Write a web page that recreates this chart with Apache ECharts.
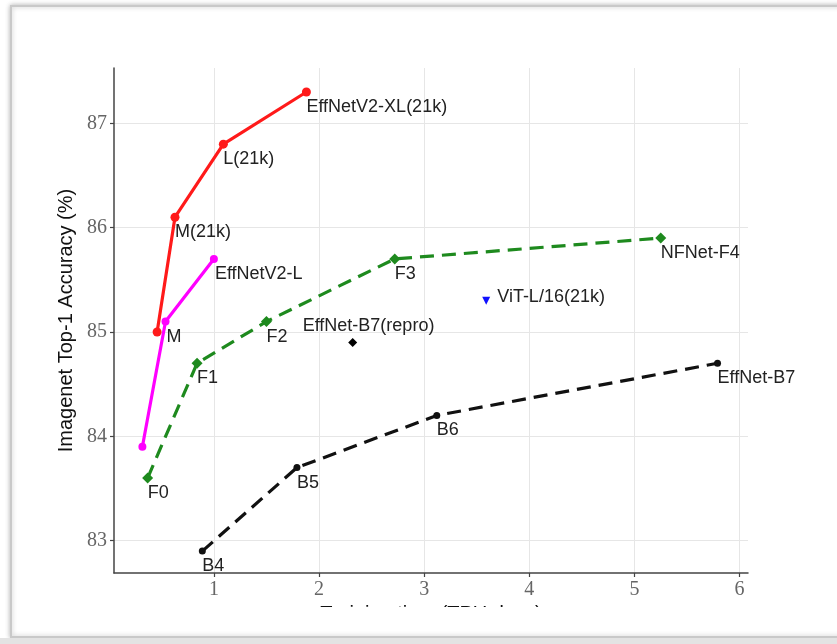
<!DOCTYPE html>
<html>
<head>
<meta charset="utf-8">
<script src="https://cdn.jsdelivr.net/npm/echarts@6/dist/echarts.min.js"></script>
<style>
html,body{margin:0;padding:0;background:#fff;}
#chart{width:837px;height:644px;}
</style>
</head>
<body>
<div id="chart"></div>
<script>
// ---- data ----
const xTicks = [1, 2, 3, 4, 5, 6];
const yTicks = [83, 84, 85, 86, 87];

const v2_21k_x = [0.46, 0.63, 1.09, 1.88];
const v2_21k_y = [85.0, 86.1, 86.8, 87.3];
const v2_21k_lbl = ['', 'M(21k)', 'L(21k)', 'EffNetV2-XL(21k)'];

const v2_x = [0.32, 0.54, 1.00];
const v2_y = [83.9, 85.1, 85.7];
const v2_lbl = ['', 'M', 'EffNetV2-L'];

const nf_x = [0.37, 0.84, 1.50, 2.72, 5.25];
const nf_y = [83.6, 84.7, 85.1, 85.7, 85.9];
const nf_lbl = ['F0', 'F1', 'F2', 'F3', 'NFNet-F4'];

const eff_x = [0.89, 1.79, 3.12, 5.79];
const eff_y = [82.9, 83.7, 84.2, 84.7];
const eff_lbl = ['B4', 'B5', 'B6', 'EffNet-B7'];

const repro_x = [2.32];
const repro_y = [84.9];
const repro_lbl = ['EffNet-B7(repro)'];

const vit_x = [3.59];
const vit_y = [85.3];
const vit_lbl = ['ViT-L/16(21k)'];

// ---- build ----
function pts(xs, ys, lbls) {
  return xs.map((x, i) => ({ value: [x, ys[i]], name: lbls[i] }));
}
const labelFont = {
  fontFamily: 'Liberation Sans, Arial, sans-serif',
  fontSize: 18,
  color: '#222'
};
function lbl(offset) {
  return Object.assign({
    show: true,
    position: 'inside',
    align: 'left',
    verticalAlign: 'middle',
    offset: offset,
    formatter: p => p.name
  }, labelFont);
}

const chart = echarts.init(document.getElementById('chart'), null, { renderer: 'canvas' });
const tickFont = { fontFamily: 'Liberation Serif, DejaVu Serif, serif', fontSize: 20, color: '#666' };

chart.setOption({
  backgroundColor: '#ffffff',
  animation: false,
  graphic: [
    { type: 'rect', z: -100, silent: true,
      shape: { x: 11, y: 6, width: 900, height: 631 },
      style: { fill: '#ffffff', stroke: '#c9c9c9', lineWidth: 2,
               shadowBlur: 5, shadowColor: 'rgba(0,0,0,0.25)' } },
    { type: 'rect', z: -99, silent: true,
      shape: { x: 0, y: 638, width: 837, height: 6 },
      style: { fill: '#e3e3e3' } },
    { type: 'rect', z: 100, silent: true,
      shape: { x: 150, y: 607, width: 600, height: 24 },
      style: { fill: '#ffffff' } }
  ],
  grid: { left: 114, right: 89, top: 68, bottom: 71, containLabel: false },
  xAxis: {
    type: 'value',
    min: 0.05, max: 6.08,
    name: 'Training time (TPU days)',
    nameLocation: 'middle',
    nameGap: 30,
    nameTextStyle: { fontFamily: 'Liberation Sans, Arial, sans-serif', fontSize: 20, color: '#111' },
    axisLine: { show: true, onZero: false, lineStyle: { color: '#444', width: 1.5 } },
    axisTick: { show: true, customValues: xTicks, length: 4, lineStyle: { color: '#444', width: 1.2 } },
    axisLabel: Object.assign({ customValues: xTicks, margin: 7, formatter: v => String(v) }, tickFont),
    splitLine: { show: true, lineStyle: { color: '#e6e6e6', width: 1 } }
  },
  yAxis: {
    type: 'value',
    min: 82.69, max: 87.53,
    name: 'Imagenet Top-1 Accuracy (%)',
    nameLocation: 'middle',
    nameGap: 33,
    nameRotate: 90,
    nameTextStyle: { fontFamily: 'Liberation Sans, Arial, sans-serif', fontSize: 20, color: '#111' },
    axisLine: { show: true, onZero: false, lineStyle: { color: '#444', width: 1.5 } },
    axisTick: { show: true, customValues: yTicks, length: 4, lineStyle: { color: '#444', width: 1.2 } },
    axisLabel: Object.assign({ customValues: yTicks, margin: 7, formatter: v => String(v) }, tickFont),
    splitLine: { show: true, lineStyle: { color: '#e6e6e6', width: 1 } }
  },
  series: [
    {
      name: 'EffNet', type: 'line', data: pts(eff_x, eff_y, eff_lbl),
      symbol: 'circle', symbolSize: 7,
      lineStyle: { color: '#111', width: 3.2, type: [14, 8] },
      itemStyle: { color: '#111' },
      label: lbl([0, 15])
    },
    {
      name: 'NFNet', type: 'line', data: pts(nf_x, nf_y, nf_lbl),
      symbol: 'diamond', symbolSize: 11,
      lineStyle: { color: '#1e8a1e', width: 3.2, type: [14, 8] },
      itemStyle: { color: '#1e8a1e' },
      label: lbl([0, 15])
    },
    {
      name: 'EffNetV2', type: 'line', data: pts(v2_x, v2_y, v2_lbl),
      symbol: 'circle', symbolSize: 8,
      lineStyle: { color: '#ff00ff', width: 3.2 },
      itemStyle: { color: '#ff00ff' },
      label: lbl([1, 15])
    },
    {
      name: 'EffNetV2(21k)', type: 'line', data: pts(v2_21k_x, v2_21k_y, v2_21k_lbl),
      symbol: 'circle', symbolSize: 9,
      lineStyle: { color: '#ff1a1a', width: 3.2 },
      itemStyle: { color: '#ff1a1a' },
      label: lbl([0, 15])
    },
    {
      name: 'EffNet-B7(repro)', type: 'scatter', data: pts(repro_x, repro_y, repro_lbl),
      symbol: 'diamond', symbolSize: 9,
      itemStyle: { color: '#000', opacity: 1 },
      label: lbl([-50, -16])
    },
    {
      name: 'ViT', type: 'scatter', data: pts(vit_x, vit_y, vit_lbl),
      symbol: 'triangle', symbolRotate: 180, symbolSize: 8,
      itemStyle: { color: '#1010ff', opacity: 1 },
      label: lbl([11, -4])
    }
  ]
});
</script>
</body>
</html>
